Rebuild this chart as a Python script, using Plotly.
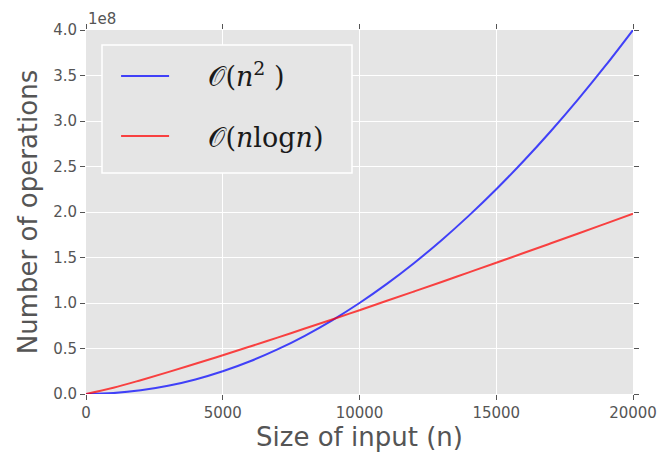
import plotly.graph_objects as go

# Input sizes n
n_values = [0, 1000, 2000, 3000, 4000, 5000, 6000, 7000, 8000, 9000, 10000,
            11000, 12000, 13000, 14000, 15000, 16000, 17000, 18000, 19000, 20000]

# Number of operations, O(n^2) curve
ops_n2 = [0.0, 0.01e8, 0.04e8, 0.09e8, 0.16e8, 0.25e8, 0.36e8, 0.49e8, 0.64e8, 0.81e8, 1.00e8,
          1.21e8, 1.44e8, 1.69e8, 1.96e8, 2.25e8, 2.56e8, 2.89e8, 3.24e8, 3.61e8, 4.00e8]

# Number of operations, O(n log n) curve
ops_nlogn = [0.0, 0.069e8, 0.152e8, 0.240e8, 0.332e8, 0.426e8, 0.522e8, 0.620e8, 0.719e8, 0.819e8, 0.921e8,
             1.024e8, 1.127e8, 1.231e8, 1.337e8, 1.442e8, 1.549e8, 1.656e8, 1.764e8, 1.872e8, 1.981e8]

x_ticks = [0, 5000, 10000, 15000, 20000]
y_tick_vals = [0, 0.5e8, 1.0e8, 1.5e8, 2.0e8, 2.5e8, 3.0e8, 3.5e8, 4.0e8]
y_tick_text = ["0.0", "0.5", "1.0", "1.5", "2.0", "2.5", "3.0", "3.5", "4.0"]

gap = "\u00a0" * 4
series_names = [gap + "𝒪(<i>n</i><sup>2</sup> )", gap + "𝒪(<i>n</i>log<i>n</i>)"]

fig = go.Figure()
fig.add_trace(go.Scatter(x=n_values, y=ops_n2, mode="lines", name=series_names[0],
                         line=dict(color="rgba(0,0,255,0.72)", width=2, shape="spline"),
                         legendgroup="a"))
fig.add_trace(go.Scatter(x=n_values, y=ops_nlogn, mode="lines", name=series_names[1],
                         line=dict(color="rgba(255,0,0,0.72)", width=2, shape="spline"),
                         legendgroup="b"))

axis_common = dict(
    showgrid=True, gridcolor="white", gridwidth=1,
    zeroline=False, showline=False,
    ticks="outside", ticklen=5, tickcolor="#555555", mirror="ticks",
    tickfont=dict(family="DejaVu Sans", size=15, color="#555555"),
)

W, H = 662, 456
PL, PR, PT, PB = 86, 633, 30, 394   # plot-area edges in pixels
pw, ph = PR - PL, PB - PT

fig.update_layout(
    width=W, height=H,
    margin=dict(l=PL, r=W - PR, t=PT, b=H - PB),
    paper_bgcolor="white",
    plot_bgcolor="#E5E5E5",
    showlegend=True,
    legend=dict(
        x=0.055, y=0.94, xanchor="left", yanchor="top",
        bgcolor="rgba(0,0,0,0)", borderwidth=0,
        font=dict(family="DejaVu Serif", size=27, color="#1a1a1a"),
        tracegroupgap=22, itemwidth=48,
    ),
    shapes=[dict(type="rect", xref="paper", yref="paper",
                 x0=(102 - PL) / pw, x1=(352 - PL) / pw,
                 y0=(PB - 173) / ph, y1=(PB - 45) / ph,
                 fillcolor="#E5E5E5", line=dict(color="white", width=1.5), layer="above")],
    xaxis=dict(range=[0, 20000], tickvals=x_ticks, ticktext=[str(v) for v in x_ticks],
               automargin="height",
               title=dict(text="Size of input (n)", font=dict(family="DejaVu Sans", size=26, color="#555555"), standoff=5),
               **axis_common),
    yaxis=dict(range=[0, 4.0e8], tickvals=y_tick_vals, ticktext=y_tick_text,
               automargin="width",
               title=dict(text="Number of operations", font=dict(family="DejaVu Sans", size=26, color="#555555"), standoff=8),
               **axis_common),
    annotations=[dict(text="1e8", xref="paper", yref="paper", x=0, y=1, xanchor="left", yanchor="bottom",
                      showarrow=False, font=dict(family="DejaVu Sans", size=15, color="#555555"))],
)

fig.write_html("out.html",
               config={"displayModeBar": False},
               post_script="document.body.style.margin='0';document.body.style.overflow='hidden';")
